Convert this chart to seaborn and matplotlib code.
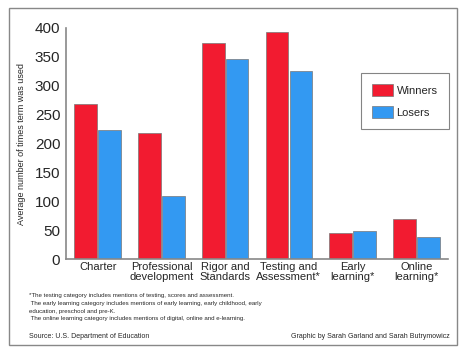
import numpy as np
import pandas as pd
import matplotlib
matplotlib.use('Agg')
import matplotlib.pyplot as plt
import seaborn as sns
from matplotlib.patches import Rectangle

categories = ['Charter', 'Professional\ndevelopment', 'Rigor and\nStandards',
              'Testing and\nAssessment*', 'Early\nlearning*', 'Online\nlearning*']
winners = [269, 219, 374, 393, 46, 69]
losers = [224, 110, 346, 326, 49, 39]
yticks = [0, 50, 100, 150, 200, 250, 300, 350, 400]

df = pd.DataFrame({'category': categories * 2,
                   'value': winners + losers,
                   'group': ['Winners'] * 6 + ['Losers'] * 6})

sns.set_style('white')
plt.rcParams['font.family'] = ['Liberation Sans', 'DejaVu Sans']

fig = plt.figure(figsize=(4.64, 3.54), dpi=100)
ax = fig.add_axes([0.142, 0.268, 0.824, 0.653])

sns.barplot(data=df, x='category', y='value', hue='group', ax=ax,
            palette={'Winners': '#F21B30', 'Losers': '#3399F2'},
            width=0.75, gap=0.05, edgecolor='#777777', linewidth=0.5,
            saturation=1)

ax.set_ylim(0, 400)
ax.set_xlim(-0.5, 5.5)
ax.set_yticks(yticks)
ax.set_xlabel('')
ax.set_ylabel('Average number of times term was used', fontsize=6.5, labelpad=6)
ax.tick_params(axis='y', direction='in', length=6, width=1, color='#888888',
               labelsize=11, pad=4)
ax.tick_params(axis='x', which='major', length=0, labelsize=8, pad=2)
for lbl in ax.get_xticklabels():
    lbl.set_linespacing(1.05)
ax.set_xticks(np.arange(0.5, 6, 1), minor=True)
ax.tick_params(axis='x', which='minor', direction='in', length=5, width=1,
               color='#888888')
for s in ['top', 'right']:
    ax.spines[s].set_visible(False)
for s in ['left', 'bottom']:
    ax.spines[s].set_color('#888888')
    ax.spines[s].set_linewidth(1.2)

leg = ax.legend(loc='upper left', bbox_to_anchor=(0.772, 0.805), fontsize=8,
                frameon=True, fancybox=False, edgecolor='#666666',
                handlelength=1.9, handleheight=1.3, borderpad=1.0,
                labelspacing=0.9, handletextpad=0.3, borderaxespad=0)
leg.get_frame().set_linewidth(0.8)

notes = ['*The testing category includes mentions of testing, scores and assessment.',
         ' The early learning category includes mentions of early learning, early childhood, early',
         'education, preschool and pre-K.',
         ' The online learning category includes mentions of digital, online and e-learning.']
for i, t in enumerate(notes):
    fig.text(29 / 464, 1 - (296 + 7.6 * i) / 354, t, fontsize=4.45, va='center')
fig.text(29 / 464, 1 - 336 / 354, 'Source: U.S. Department of Education',
         fontsize=5.0, va='center')
fig.text(450 / 464, 1 - 336 / 354, 'Graphic by Sarah Garland and Sarah Butrymowicz',
         fontsize=5.0, va='center', ha='right')

fig.patches.append(Rectangle((9 / 464, 1 - 345 / 354), 448 / 464, 337 / 354,
                             transform=fig.transFigure, fill=False,
                             edgecolor='#888888', linewidth=1))

fig.savefig('out.png', dpi=100)
